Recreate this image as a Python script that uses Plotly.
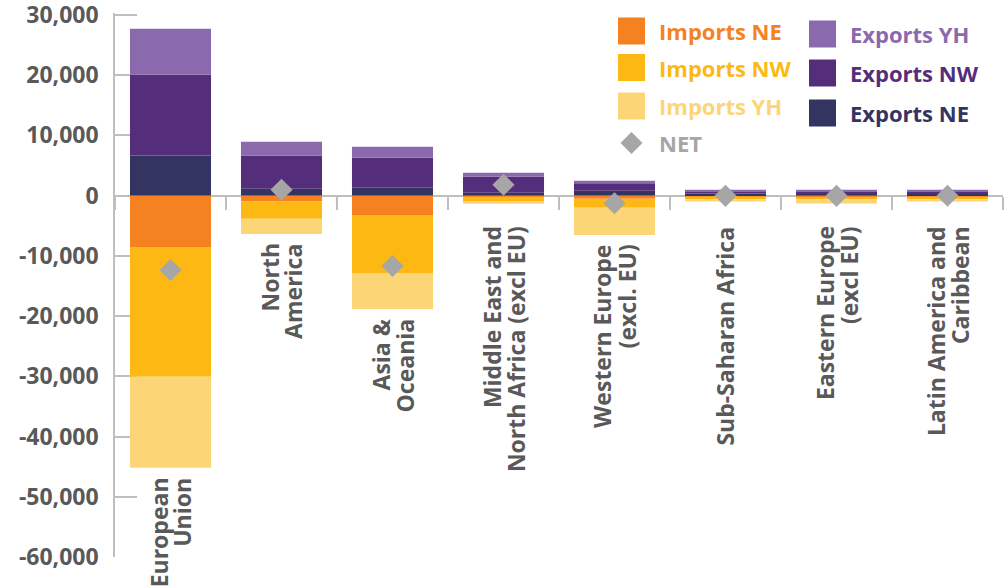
import plotly.graph_objects as go

# Regions (category labels, one list entry per printed line)
regions = [
    ["European", "Union"],
    ["North", "America"],
    ["Asia &amp;", "Oceania"],
    ["Middle East and", "North Africa (excl EU)"],
    ["Western Europe", "(excl. EU)"],
    ["Sub-Saharan Africa"],
    ["Eastern Europe", "(excl EU)"],
    ["Latin America and", "Caribbean"],
]

# Imports (negative) by port group
imports_ne = [-8530, -1000, -3210, -220, -550, -170, -270, -220]
imports_nw = [-21550, -2870, -9640, -830, -1490, -430, -330, -380]
imports_yh = [-15120, -2500, -5980, -330, -4490, -400, -730, -400]

# Exports (positive) by port group
exports_ne = [6650, 1110, 1280, 450, 780, 330, 400, 330]
exports_nw = [13410, 5490, 4990, 2650, 1280, 400, 330, 330]
exports_yh = [7640, 2320, 1820, 670, 380, 220, 220, 290]

# Net balance per region
net = [-12350, 950, -11690, 1780, -1270, -50, -50, -30]

y_tickvals = [30000, 20000, 10000, 0, -10000, -20000, -30000, -40000, -50000, -60000]
y_ticktext = ["30,000", "20,000", "10,000", "0", "-10,000", "-20,000",
              "-30,000", "-40,000", "-50,000", "-60,000"]

C_IMP_NE = "#F58220"
C_IMP_NW = "#FDB813"
C_IMP_YH = "#FCD577"
C_EXP_YH = "#8B69AD"
C_EXP_NW = "#542E7A"
C_EXP_NE = "#333462"
C_NET = "#A6A6A6"
C_TEXT = "#595959"
C_AXIS = "#BFBFBF"
FONT = "Open Sans"

Y_MIN, Y_MAX = -60000, 30300

FIG_W, FIG_H = 1006, 586
L, R, T, B = 115, 3, 13, 29
PW, PH = FIG_W - L - R, FIG_H - T - B


def px(x):
    return (x - L) / PW


def py(y):
    return 1 - (y - T) / PH


fig = go.Figure()
series = [
    ("Imports NE", imports_ne, C_IMP_NE),
    ("Imports NW", imports_nw, C_IMP_NW),
    ("Imports YH", imports_yh, C_IMP_YH),
    ("Exports NE", exports_ne, C_EXP_NE),
    ("Exports NW", exports_nw, C_EXP_NW),
    ("Exports YH", exports_yh, C_EXP_YH),
]
idx = list(range(len(regions)))
for name, vals, col in series:
    fig.add_trace(go.Bar(x=idx, y=vals, name=name, marker=dict(color=col, line=dict(width=0)),
                         showlegend=False))

fig.add_trace(go.Scatter(x=idx, y=net, mode="markers", name="NET", showlegend=False,
                         marker=dict(symbol="diamond", size=17, color=C_NET, line=dict(width=0))))

# Category labels hang just below each bar's lowest segment; the lines of a
# label are set side by side (rotated text) with their ends aligned at the top
label_floor = -3500
line_gap = 24
annotations = []
for i, lines in enumerate(regions):
    bottom = imports_ne[i] + imports_nw[i] + imports_yh[i]
    n = len(lines)
    for k, line in enumerate(lines):
        annotations.append(dict(
            x=i, y=min(bottom, label_floor), xref="x", yref="y", text=line,
            textangle=-90, xanchor="center", yanchor="top",
            xshift=(k - (n - 1) / 2) * line_gap, yshift=-8, showarrow=False,
            font=dict(family=FONT, size=23, color=C_TEXT, weight="bold"),
        ))

# Legend drawn by hand: two columns of swatches with coloured labels
shapes = []
legend_items = [
    ("Imports NE", C_IMP_NE, "sq", 618, 657, 31),
    ("Imports NW", C_IMP_NW, "sq", 618, 657, 67.5),
    ("Imports YH", C_IMP_YH, "sq", 618, 657, 106),
    ("NET", C_NET, "dia", 618, 657, 143),
    ("Exports YH", C_EXP_YH, "sq", 809, 848, 34),
    ("Exports NW", C_EXP_NW, "sq", 809, 848, 73),
    ("Exports NE", C_EXP_NE, "sq", 809, 848, 113),
]
for text, col, kind, sx, tx, cy in legend_items:
    if kind == "sq":
        shapes.append(dict(type="rect", xref="paper", yref="paper",
                           x0=px(sx), x1=px(sx + 27), y0=py(cy - 13.5), y1=py(cy + 13.5),
                           fillcolor=col, line=dict(width=0)))
    else:
        shapes.append(dict(type="path", xref="paper", yref="paper",
                           xsizemode="pixel", ysizemode="pixel",
                           xanchor=px(sx + 13.5), yanchor=py(cy),
                           path="M0,-11 L11,0 L0,11 L-11,0 Z",
                           fillcolor=col, line=dict(width=0)))
    annotations.append(dict(x=px(tx), y=py(cy), xref="paper", yref="paper", text=text,
                            xanchor="left", yanchor="middle", showarrow=False,
                            font=dict(family=FONT, size=22, color=col, weight="bold")))

fig.update_layout(
    width=FIG_W, height=FIG_H,
    margin=dict(l=L, r=R, t=T, b=B, pad=0, autoexpand=False),
    paper_bgcolor="white", plot_bgcolor="white",
    barmode="relative", bargap=0.27,
    showlegend=False,
    annotations=annotations, shapes=shapes,
    xaxis=dict(
        range=[-0.5, len(regions) - 0.5], anchor="free",
        position=(0 - Y_MIN) / (Y_MAX - Y_MIN), automargin=False,
        showline=True, linecolor=C_AXIS, linewidth=2,
        ticks="outside", ticklen=13, tickwidth=1.5, tickcolor=C_AXIS,
        tickvals=[i - 0.5 for i in range(len(regions) + 1)],
        showticklabels=False, showgrid=False, zeroline=False, layer="below traces",
    ),
    yaxis=dict(
        range=[Y_MIN, Y_MAX], tickvals=y_tickvals, ticktext=y_ticktext,
        automargin=False,
        showline=True, linecolor=C_AXIS, linewidth=1.5,
        ticks="inside", ticklen=22, tickwidth=1.5, tickcolor=C_AXIS,
        ticklabelstandoff=10, ticklabeloverflow="allow",
        tickfont=dict(family=FONT, size=23, color=C_TEXT, weight="bold"),
        showgrid=False, zeroline=False, layer="below traces",
    ),
)

fig.write_html("out.html")
